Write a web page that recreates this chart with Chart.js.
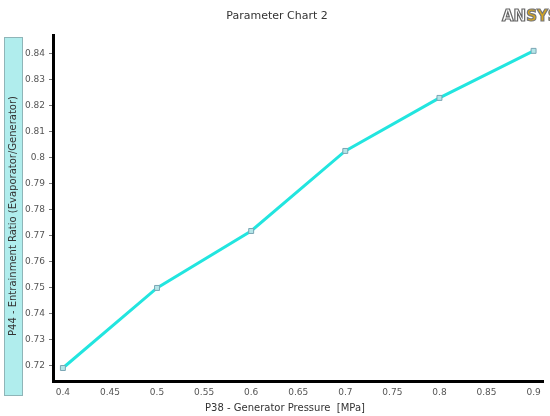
<!DOCTYPE html>
<html lang="en">
<head>
<meta charset="UTF-8">
<title>Parameter Chart 2</title>
<script src="https://cdn.jsdelivr.net/npm/chart.js@4.4.0/dist/chart.umd.min.js"></script>
<style>
  html, body { margin: 0; padding: 0; background: #fff; }
  #wrap { width: 550px; height: 416px; position: relative; }
</style>
</head>
<body>
<div id="wrap"><canvas id="chart"></canvas></div>
<script>
// data
const pressure = [0.4, 0.5, 0.6, 0.7, 0.8, 0.9];
const entrainment = [0.7192, 0.7500, 0.7719, 0.8027, 0.8231, 0.8412];
const xTicks = [0.4, 0.45, 0.5, 0.55, 0.6, 0.65, 0.7, 0.75, 0.8, 0.85, 0.9];
const yTicks = [0.72, 0.73, 0.74, 0.75, 0.76, 0.77, 0.78, 0.79, 0.8, 0.81, 0.82, 0.83, 0.84];

const font = 'DejaVu Sans, sans-serif';

// title, boxed y label, x label and the logo
const decor = {
  id: 'decor',
  afterDraw(chart) {
    const ctx = chart.ctx;
    ctx.save();
    ctx.fillStyle = '#333';
    ctx.font = '11px ' + font;
    ctx.textAlign = 'center';
    ctx.textBaseline = 'middle';
    ctx.fillText('Parameter Chart 2', 277, 16);

    ctx.font = '10px ' + font;
    ctx.fillText('P38 - Generator Pressure  [MPa]', 285, 408);

    ctx.fillStyle = '#b0eded';
    ctx.fillRect(4, 37, 18, 358);
    ctx.strokeStyle = '#8fb5b8';
    ctx.lineWidth = 1;
    ctx.strokeRect(4.5, 37.5, 18, 358);
    ctx.translate(13.5, 216);
    ctx.rotate(-Math.PI / 2);
    ctx.fillStyle = '#333';
    ctx.font = '10px ' + font;
    ctx.fillText('P44 - Entrainment Ratio (Evaporator/Generator)', 0, 0);
    ctx.restore();

    // logo
    ctx.save();
    ctx.font = 'bold 15px ' + font;
    ctx.textBaseline = 'middle';
    ctx.textAlign = 'left';
    ctx.lineWidth = 1.2;
    ctx.fillStyle = '#fff';
    ctx.strokeStyle = '#666';
    ctx.fillText('AN', 502, 17);
    ctx.strokeText('AN', 502, 17);
    const w = ctx.measureText('AN').width;
    ctx.fillStyle = '#d9a81c';
    ctx.strokeStyle = '#777';
    ctx.fillText('SYS', 502 + w, 17);
    ctx.strokeText('SYS', 502 + w, 17);
    ctx.restore();
  }
};

new Chart(document.getElementById('chart'), {
  type: 'line',
  data: {
    datasets: [{
      data: pressure.map((p, i) => ({ x: p, y: entrainment[i] })),
      borderColor: '#22e5df',
      borderWidth: 3,
      pointStyle: 'rect',
      pointRadius: 3.5,
      pointBackgroundColor: '#b4e6e8',
      pointBorderColor: '#7aa6b4',
      pointBorderWidth: 1,
      tension: 0
    }]
  },
  options: {
    responsive: true,
    maintainAspectRatio: false,
    animation: false,
    layout: { padding: { left: 0, top: 35, right: 7, bottom: 0 } },
    plugins: { legend: { display: false }, tooltip: { enabled: false } },
    scales: {
      x: {
        type: 'linear',
        min: 0.3895,
        max: 0.91,
        afterBuildTicks: s => { s.ticks = xTicks.map(v => ({ value: v })); },
        afterFit: s => { s.height = 35; },
        border: { color: '#000', width: 3 },
        grid: { display: false, tickLength: 0 },
        ticks: {
          color: '#555',
          font: { family: font, size: 9 },
          padding: 6,
          maxRotation: 0,
          callback: v => String(v)
        }
      },
      y: {
        min: 0.7142,
        max: 0.8473,
        afterBuildTicks: s => { s.ticks = yTicks.map(v => ({ value: v })); },
        afterFit: s => { s.width = 53; },
        border: { color: '#000', width: 3 },
        grid: { drawOnChartArea: false, tickLength: 4, color: '#777' },
        ticks: {
          color: '#555',
          font: { family: font, size: 9 },
          padding: 4,
          callback: v => String(v)
        }
      }
    }
  },
  plugins: [decor]
});
</script>
</body>
</html>
